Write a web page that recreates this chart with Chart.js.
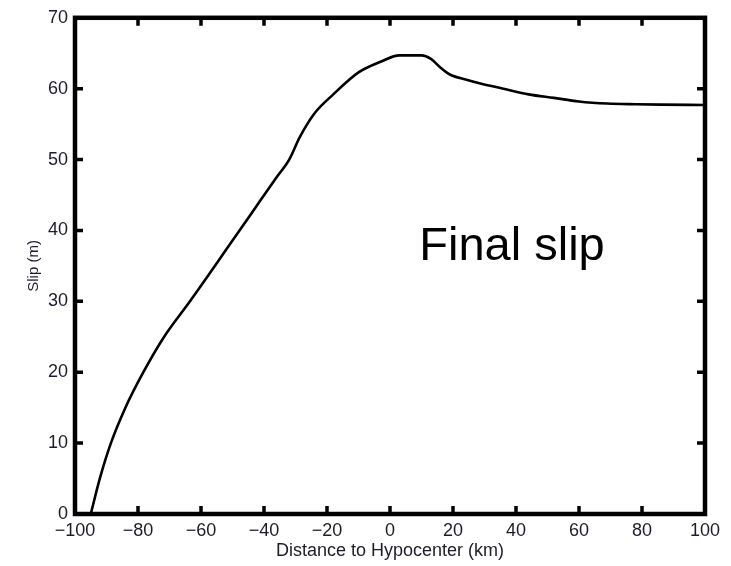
<!DOCTYPE html>
<html>
<head>
<meta charset="utf-8">
<script src="https://cdn.jsdelivr.net/npm/chart.js@4/dist/chart.umd.min.js"></script>
<style>
  html, body { margin: 0; padding: 0; background: #fff; }
  #wrap { width: 731px; height: 566px; position: relative; }
</style>
</head>
<body>
<div id="wrap"><canvas id="c" width="731" height="566"></canvas></div>
<script>
// Data
const distanceKm = [-95, -92, -88.6, -84, -78.3, -72, -63.5, -60, -52, -44, -36, -32, -28.6, -24, -18, -10, -3, 3, 10, 13, 16, 19, 24, 29, 36, 44, 52, 60, 69, 78, 86, 100];
const slipM = [0, 5.2, 10, 15, 20, 24.8, 30, 32.2, 37.3, 42.4, 47.5, 50, 53.2, 56.5, 59.2, 62.3, 63.8, 64.7, 64.7, 64.2, 63, 62, 61.3, 60.7, 60, 59.2, 58.7, 58.2, 57.9, 57.8, 57.75, 57.7];
const xTicks = [-100, -80, -60, -40, -20, 0, 20, 40, 60, 80, 100];
const yTicks = [0, 10, 20, 30, 40, 50, 60, 70];
const xTitle = 'Distance to Hypocenter (km)';
const yTitle = 'Slip (m)';
const annotationText = 'Final slip';
const annotationAt = { x: 9.3, y: 35.9 };

const points = distanceKm.map((d, i) => ({ x: d, y: slipM[i] }));
const fontFamily = '"Liberation Sans", Arial, Helvetica, sans-serif';

const framePlugin = {
  id: 'frame',
  afterDatasetsDraw(chart) {
    const { ctx, chartArea: a, scales: { x, y } } = chart;
    ctx.save();
    ctx.strokeStyle = '#000';
    ctx.lineCap = 'butt';
    // inward tick marks on all four sides
    ctx.lineWidth = 3.5;
    const tl = 8;
    xTicks.forEach(v => {
      if (v === x.min || v === x.max) return;
      const px = x.getPixelForValue(v);
      ctx.beginPath();
      ctx.moveTo(px, a.bottom); ctx.lineTo(px, a.bottom - tl);
      ctx.moveTo(px, a.top); ctx.lineTo(px, a.top + tl);
      ctx.stroke();
    });
    yTicks.forEach(v => {
      if (v === y.min || v === y.max) return;
      const py = y.getPixelForValue(v);
      ctx.beginPath();
      ctx.moveTo(a.left, py); ctx.lineTo(a.left + tl, py);
      ctx.moveTo(a.right, py); ctx.lineTo(a.right - tl, py);
      ctx.stroke();
    });
    // box
    ctx.lineWidth = 4.5;
    ctx.strokeRect(a.left, a.top, a.right - a.left, a.bottom - a.top);
    // annotation
    ctx.fillStyle = '#000';
    ctx.font = '47px ' + fontFamily;
    ctx.textAlign = 'left';
    ctx.textBaseline = 'alphabetic';
    ctx.fillText(annotationText, x.getPixelForValue(annotationAt.x), y.getPixelForValue(annotationAt.y));
    ctx.restore();
  }
};

new Chart(document.getElementById('c'), {
  type: 'line',
  data: {
    datasets: [{
      data: points,
      borderColor: '#000',
      borderWidth: 2.6,
      pointRadius: 0,
      cubicInterpolationMode: 'monotone',
      fill: false
    }]
  },
  options: {
    responsive: false,
    animation: false,
    events: [],
    layout: { padding: { left: 0, right: 26, top: 13, bottom: 0 } },
    plugins: { legend: { display: false }, tooltip: { enabled: false } },
    scales: {
      x: {
        type: 'linear',
        min: -100, max: 100,
        afterFit(s) { s.height = 52; },
        afterBuildTicks(s) { s.ticks = xTicks.map(v => ({ value: v })); },
        border: { display: false },
        grid: { display: false, drawTicks: false },
        ticks: {
          padding: 6,
          color: '#1c1c2a',
          font: { family: fontFamily, size: 18 },
          maxRotation: 0,
          autoSkip: false,
          callback: v => String(v).replace('-', '\u2212')
        },
        title: {
          display: true,
          text: xTitle,
          color: '#1c1c2a',
          font: { family: fontFamily, size: 18 },
          padding: { top: 0, bottom: 4 }
        }
      },
      y: {
        type: 'linear',
        min: 0, max: 70,
        afterFit(s) { s.width = 75; },
        afterBuildTicks(s) { s.ticks = yTicks.map(v => ({ value: v })); },
        border: { display: false },
        grid: { display: false, drawTicks: false },
        ticks: {
          padding: 7,
          color: '#1c1c2a',
          font: { family: fontFamily, size: 18 },
          autoSkip: false
        },
        title: {
          display: true,
          text: yTitle,
          color: '#1c1c2a',
          font: { family: fontFamily, size: 15 },
          padding: { top: 25, bottom: 0 }
        }
      }
    }
  },
  plugins: [framePlugin]
});
</script>
</body>
</html>
